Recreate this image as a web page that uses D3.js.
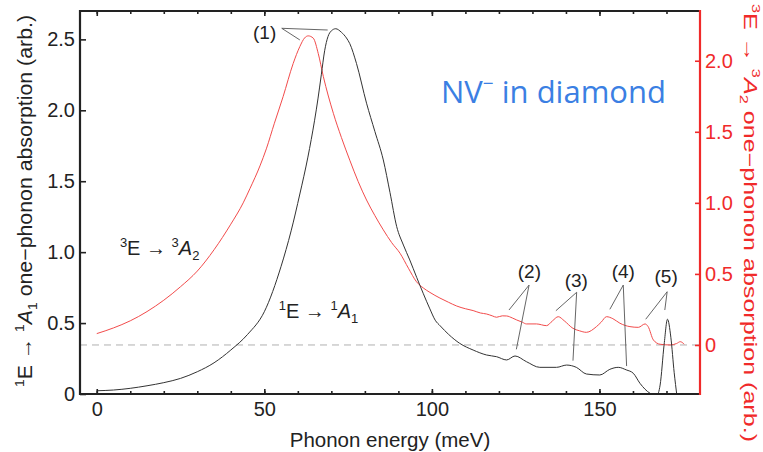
<!DOCTYPE html>
<html><head><meta charset="utf-8">
<script src="https://cdn.jsdelivr.net/npm/d3@7"></script>
<style>body{margin:0;background:#fff}</style>
</head><body><svg id="c" width="763" height="452"></svg>
<script>
// ---- data ----
const energyA1 = [0,5,10,15,20,25,30,35,40,45,50,55,58,60.6,63,65,66,67,68,69,70,71.3,73,74.5,75.5,77.5,80.5,83,85.5,87.5,89.5,91.5,93.4,95.5,97.4,99.4,101,102.5,105,108.3,112.3,116.3,119.3,122.3,124.8,128.2,132.2,137.2,140.2,143.1,146.1,150.1,153.1,155.6,158,160.1,162.1,165.1,167.1,168.1,169.3,170.3,171.3,172.3,173.1];
const absorbA1 = [0.023,0.028,0.04,0.058,0.08,0.11,0.157,0.22,0.31,0.42,0.58,0.9,1.15,1.41,1.67,1.93,2.08,2.25,2.42,2.52,2.56,2.575,2.55,2.51,2.47,2.33,2.05,1.85,1.65,1.42,1.18,1.05,0.945,0.82,0.71,0.6,0.52,0.48,0.42,0.357,0.31,0.275,0.263,0.24,0.268,0.228,0.188,0.188,0.204,0.188,0.141,0.134,0.174,0.188,0.17,0.146,0.075,0.005,-0.01,0.063,0.35,0.527,0.40,0.15,-0.01];

const energyA2 = [0,5,10,15,20,25,30,35,40,43.7,45.7,48.7,50.6,53,55.6,58.6,60.6,62,63.1,64.6,66.1,67.6,70.6,73,75.5,78,80.5,83,85.5,88,90.5,93,95.4,97.5,99.4,102.4,105,107.4,110,112.3,114.5,116.3,118,119.3,121,122.3,124,125.3,127,128.2,131.2,134.2,136,137.7,139.5,142.1,144,146.1,149.1,150.5,152.1,154,156.1,159.1,161.6,163.6,164.5,166.1,168.1,171.1,173,174.1,175.3];
const absorbA2 = [0.08,0.12,0.17,0.235,0.315,0.41,0.52,0.67,0.85,1.0,1.1,1.26,1.38,1.56,1.747,1.98,2.10,2.16,2.175,2.159,2.05,1.89,1.63,1.46,1.30,1.15,1.02,0.91,0.81,0.72,0.645,0.54,0.445,0.40,0.37,0.33,0.30,0.274,0.255,0.242,0.225,0.218,0.205,0.195,0.205,0.204,0.19,0.176,0.16,0.148,0.148,0.136,0.17,0.199,0.17,0.117,0.1,0.089,0.129,0.16,0.199,0.185,0.153,0.129,0.124,0.148,0.13,0.035,0.005,0,0.01,0.023,0.005];

const xMajorTicks = [0,50,100,150];
const xMinorTicks = [0,10,20,30,40,50,60,70,80,90,100,110,120,130,140,150,160,170];
const leftTicks = [0,0.5,1.0,1.5,2.0,2.5];
const rightTicks = [0,0.5,1.0,1.5,2.0];

// annotations (data coordinates: energy, left-axis value)
const annLabels = ["(1)","(2)","(3)","(4)","(5)"];
const annText   = [[50.1,2.552],[129.1,0.867],[143.1,0.804],[157.1,0.867],[169.9,0.832]];
const annOrigin = [[55.2,2.578],[129.0,0.768],[143.2,0.717],[157.1,0.768],[170.2,0.721]];
const annTargets= [[[68.9,2.566],[60.6,2.496]],[[123.0,0.592],[125.2,0.315]],[[137.0,0.587],[142.1,0.235]],[[153.1,0.597],[158.1,0.197]],[[163.8,0.527],[169.5,0.592]]];

// ---- chart ----
const W=763,H=452, L=80,R=700,T=11,B=394;
const svg=d3.select("#c");
const FONT="'Liberation Sans', Arial, Helvetica, sans-serif";
const RED="#f02a2a";
const x=d3.scaleLinear().domain([-5,180]).range([L,R]);
const yL=d3.scaleLinear().domain([0,2.7]).range([B,T]);
const yR=d3.scaleLinear().domain([-0.345,2.35]).range([B,T]);

svg.append("clipPath").attr("id","clip").append("rect").attr("x",L).attr("y",T).attr("width",R-L).attr("height",B-T);

// dashed zero line of right axis
svg.append("line").attr("x1",L).attr("x2",R).attr("y1",yR(0)).attr("y2",yR(0))
  .attr("stroke","#b0b0b0").attr("stroke-width",1).attr("stroke-dasharray","7,5");

const g=svg.append("g").attr("clip-path","url(#clip)");
const lineL=d3.line().x((d,i)=>x(energyA1[i])).y(d=>yL(d)).curve(d3.curveMonotoneX);
const lineR=d3.line().x((d,i)=>x(energyA2[i])).y(d=>yR(d)).curve(d3.curveMonotoneX);
g.append("path").attr("d",lineR(absorbA2)).attr("fill","none").attr("stroke","#f24b4b").attr("stroke-width",1);
g.append("path").attr("d",lineL(absorbA1)).attr("fill","none").attr("stroke","#333").attr("stroke-width",1);

function styleAxis(sel,color){
  sel.select(".domain").remove();
  sel.selectAll(".tick line").attr("stroke",color).attr("stroke-width",1.6);
  sel.selectAll(".tick text").attr("fill",color).attr("font-family",FONT).attr("font-size",20);
}
const fmt=d=>d===0?"0":d3.format(".1f")(d);
// bottom
svg.append("g").attr("transform",`translate(0,${B})`).call(d3.axisBottom(x).tickValues(xMinorTicks).tickSize(-3).tickFormat("")).call(s=>styleAxis(s,"#222"));
svg.append("g").attr("transform",`translate(0,${B})`).call(d3.axisBottom(x).tickValues(xMajorTicks).tickSize(-5).tickPadding(8).tickFormat(d3.format("d"))).call(s=>styleAxis(s,"#222"));
// top
svg.append("g").attr("transform",`translate(0,${T})`).call(d3.axisTop(x).tickValues(xMinorTicks).tickSize(-3).tickFormat("")).call(s=>styleAxis(s,"#222"));
svg.append("g").attr("transform",`translate(0,${T})`).call(d3.axisTop(x).tickValues(xMajorTicks).tickSize(-5).tickFormat("")).call(s=>styleAxis(s,"#222"));
// left
svg.append("g").attr("transform",`translate(${L},0)`).call(d3.axisLeft(yL).tickValues(leftTicks).tickSize(-6).tickPadding(5).tickFormat(fmt)).call(s=>styleAxis(s,"#222"));
// right
svg.append("g").attr("transform",`translate(${R},0)`).call(d3.axisRight(yR).tickValues(rightTicks).tickSize(-5).tickPadding(5).tickFormat(fmt)).call(s=>styleAxis(s,RED));

// frame
svg.append("path").attr("d",`M${R},${T}H${L}V${B}H${R}`).attr("fill","none").attr("stroke","#222").attr("stroke-width",2.2);
svg.append("line").attr("x1",R).attr("x2",R).attr("y1",T-1).attr("y2",B+1).attr("stroke",RED).attr("stroke-width",2.2);

// rich text helper
function rich(t,parts,size){
  let off=0;
  parts.forEach(p=>{
    const ts=t.append("tspan").text(p[0]);
    let target=0;
    if(p[1]&&p[1].includes("sup")){target=-0.42*size;ts.attr("font-size",size*0.65);}
    if(p[1]&&p[1].includes("sub")){target=0.25*size;ts.attr("font-size",size*0.65);}
    if(p[1]&&p[1].includes("it")) ts.attr("font-style","italic");
    ts.attr("dy",target-off); off=target;
  });
  return t;
}

// x title
svg.append("text").attr("x",(L+R)/2).attr("y",447).attr("text-anchor","middle")
  .attr("font-family",FONT).attr("font-size",20.5).attr("fill","#222").text("Phonon energy (meV)");

// left title
rich(svg.append("text").attr("transform","translate(32,201) rotate(-90)").attr("text-anchor","middle")
  .attr("font-family",FONT).attr("font-size",20).attr("fill","#222").attr("textLength",372).attr("lengthAdjust","spacingAndGlyphs"),
  [["1","sup"],["E → "],["1","sup"],["A","it"],["1","sub"],[" one−phonon absorption (arb.)"]],20);

// right title
rich(svg.append("text").attr("transform","translate(744,223) rotate(90)").attr("text-anchor","middle")
  .attr("font-family",FONT).attr("font-size",18).attr("fill",RED).attr("textLength",438).attr("lengthAdjust","spacingAndGlyphs"),
  [["3","sup"],["E → "],["3","sup"],["A","it"],["2","sub"],[" one−phonon absorption (arb.)"]],18);

// curve labels
rich(svg.append("text").attr("x",x(6.9)).attr("y",yL(0.98)).attr("font-family",FONT).attr("font-size",20).attr("fill","#222"),
  [["3","sup"],["E → "],["3","sup"],["A","it"],["2","sub"]],20);
rich(svg.append("text").attr("x",x(54.3)).attr("y",yL(0.536)).attr("font-family",FONT).attr("font-size",20).attr("fill","#222"),
  [["1","sup"],["E → "],["1","sup"],["A","it"],["1","sub"]],20);

// annotations
annLabels.forEach((lab,i)=>{
  svg.append("text").attr("x",x(annText[i][0])).attr("y",yL(annText[i][1])).attr("dy","0.36em")
    .attr("text-anchor","middle").attr("font-family",FONT).attr("font-size",19).attr("fill","#222").text(lab);
  annTargets[i].forEach(tg=>{
    svg.append("line").attr("x1",x(annOrigin[i][0])).attr("y1",yL(annOrigin[i][1]))
      .attr("x2",x(tg[0])).attr("y2",yL(tg[1])).attr("stroke","#555").attr("stroke-width",0.9);
  });
});

// title
const nv=svg.append("text").attr("x",441).attr("y",103).attr("font-family","'Open Sans','Noto Sans',sans-serif")
  .attr("font-size",31).attr("fill","#3b7fe3");
nv.append("tspan").text("NV");
nv.append("tspan").text("−").attr("font-size",19).attr("dy",-13);
nv.append("tspan").text(" in diamond").attr("dy",13);
</script></body></html>
